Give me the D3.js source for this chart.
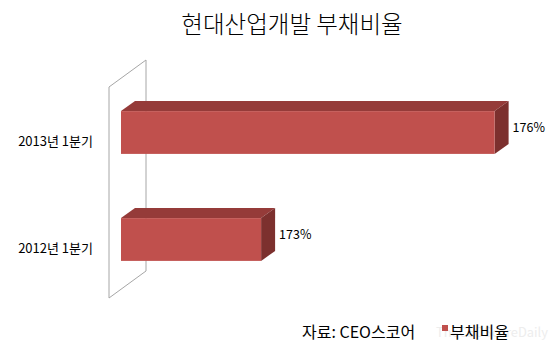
<!DOCTYPE html>
<html>
<head>
<meta charset="utf-8">
<script src="https://cdn.jsdelivr.net/npm/d3@7"></script>
<style>
body { margin: 0; background: #fff; }
text { font-family: "Malgun Gothic", "Noto Sans CJK KR", sans-serif; fill: #000; }
</style>
</head>
<body>
<svg id="chart"></svg>
<script>
var categories = ['2013년 1분기', '2012년 1분기'];
var values = [176, 173];
var seriesName = '부채비율';
var title = '현대산업개발 부채비율';
var source = '자료: CEO스코어';

var W = 557, H = 348;
var svg = d3.select('#chart').attr('width', W).attr('height', H);

var x = d3.scaleLinear().domain([171.2, 177.2]).range([121, 588]);
var y = d3.scaleBand().domain(categories).range([79, 293]).paddingInner(0.6).paddingOuter(0.3);
var dx = 14, dy = -10;

// title
svg.append('text').attr('x', 292).attr('y', 33).attr('text-anchor', 'middle')
    .style('font-size', '23.5px').style('font-weight', 300).text(title);

// wall (side plane of the 3d plot)
var wx0 = 109, wx1 = 146, wyTop = 87, wyBot = 298, wdy = -27;
svg.append('path')
    .attr('d', 'M' + wx0 + ',' + wyBot + 'L' + wx0 + ',' + wyTop + 'L' + wx1 + ',' + (wyTop + wdy) +
        'L' + wx1 + ',' + (wyBot + wdy) + 'Z')
    .attr('fill', 'none').attr('stroke', '#a6a6a6').attr('stroke-width', 1);

var data = categories.map(function(c, i) { return {cat: c, v: values[i]}; });
var g = svg.selectAll('g.bar').data(data).enter().append('g').attr('class', 'bar');

// top face
g.append('path').attr('d', function(d) {
    var x0 = x.range()[0], x1 = x(d.v), y0 = y(d.cat);
    return 'M' + x0 + ',' + y0 + 'L' + (x0 + dx) + ',' + (y0 + dy) + 'L' + (x1 + dx) + ',' + (y0 + dy) + 'L' + x1 + ',' + y0 + 'Z';
}).attr('fill', '#953b39');
// side face
g.append('path').attr('d', function(d) {
    var x1 = x(d.v), y0 = y(d.cat), y1 = y0 + y.bandwidth();
    return 'M' + x1 + ',' + y0 + 'L' + (x1 + dx) + ',' + (y0 + dy) + 'L' + (x1 + dx) + ',' + (y1 + dy) + 'L' + x1 + ',' + y1 + 'Z';
}).attr('fill', '#7c302e');
// front face
g.append('rect')
    .attr('x', x.range()[0]).attr('y', function(d) { return y(d.cat); })
    .attr('width', function(d) { return x(d.v) - x.range()[0]; })
    .attr('height', y.bandwidth())
    .attr('fill', '#c0504d');

// value labels
g.append('text')
    .attr('x', function(d) { return x(d.v) + dx + 4; })
    .attr('y', function(d) { return y(d.cat) + y.bandwidth() / 2 + dy / 2; })
    .attr('dy', '0.35em').style('font-size', '12.5px')
    .text(function(d) { return d.v + '%'; });

// category labels
svg.selectAll('text.cat').data(categories).enter().append('text').attr('class', 'cat')
    .attr('x', 93).attr('y', function(d) { return y(d) + y.bandwidth() / 2 + 9; })
    .attr('dy', '0.35em').attr('text-anchor', 'end').style('font-size', '13px')
    .text(function(d) { return d; });

// watermark (faint, sits behind the legend like in the source image)
svg.append('text').attr('x', 436).attr('y', 337).style('font-size', '13px')
    .attr('textLength', 112).attr('lengthAdjust', 'spacingAndGlyphs')
    .style('fill', '#ededed').text('TheCEOScoreDaily');

// source + legend
svg.append('text').attr('x', 302).attr('y', 338).style('font-size', '16px').text(source);
svg.append('rect').attr('x', 442).attr('y', 325).attr('width', 6).attr('height', 6).attr('fill', '#c0504d');
svg.append('text').attr('x', 450).attr('y', 338).style('font-size', '16px').text(seriesName);
</script>
</body>
</html>
